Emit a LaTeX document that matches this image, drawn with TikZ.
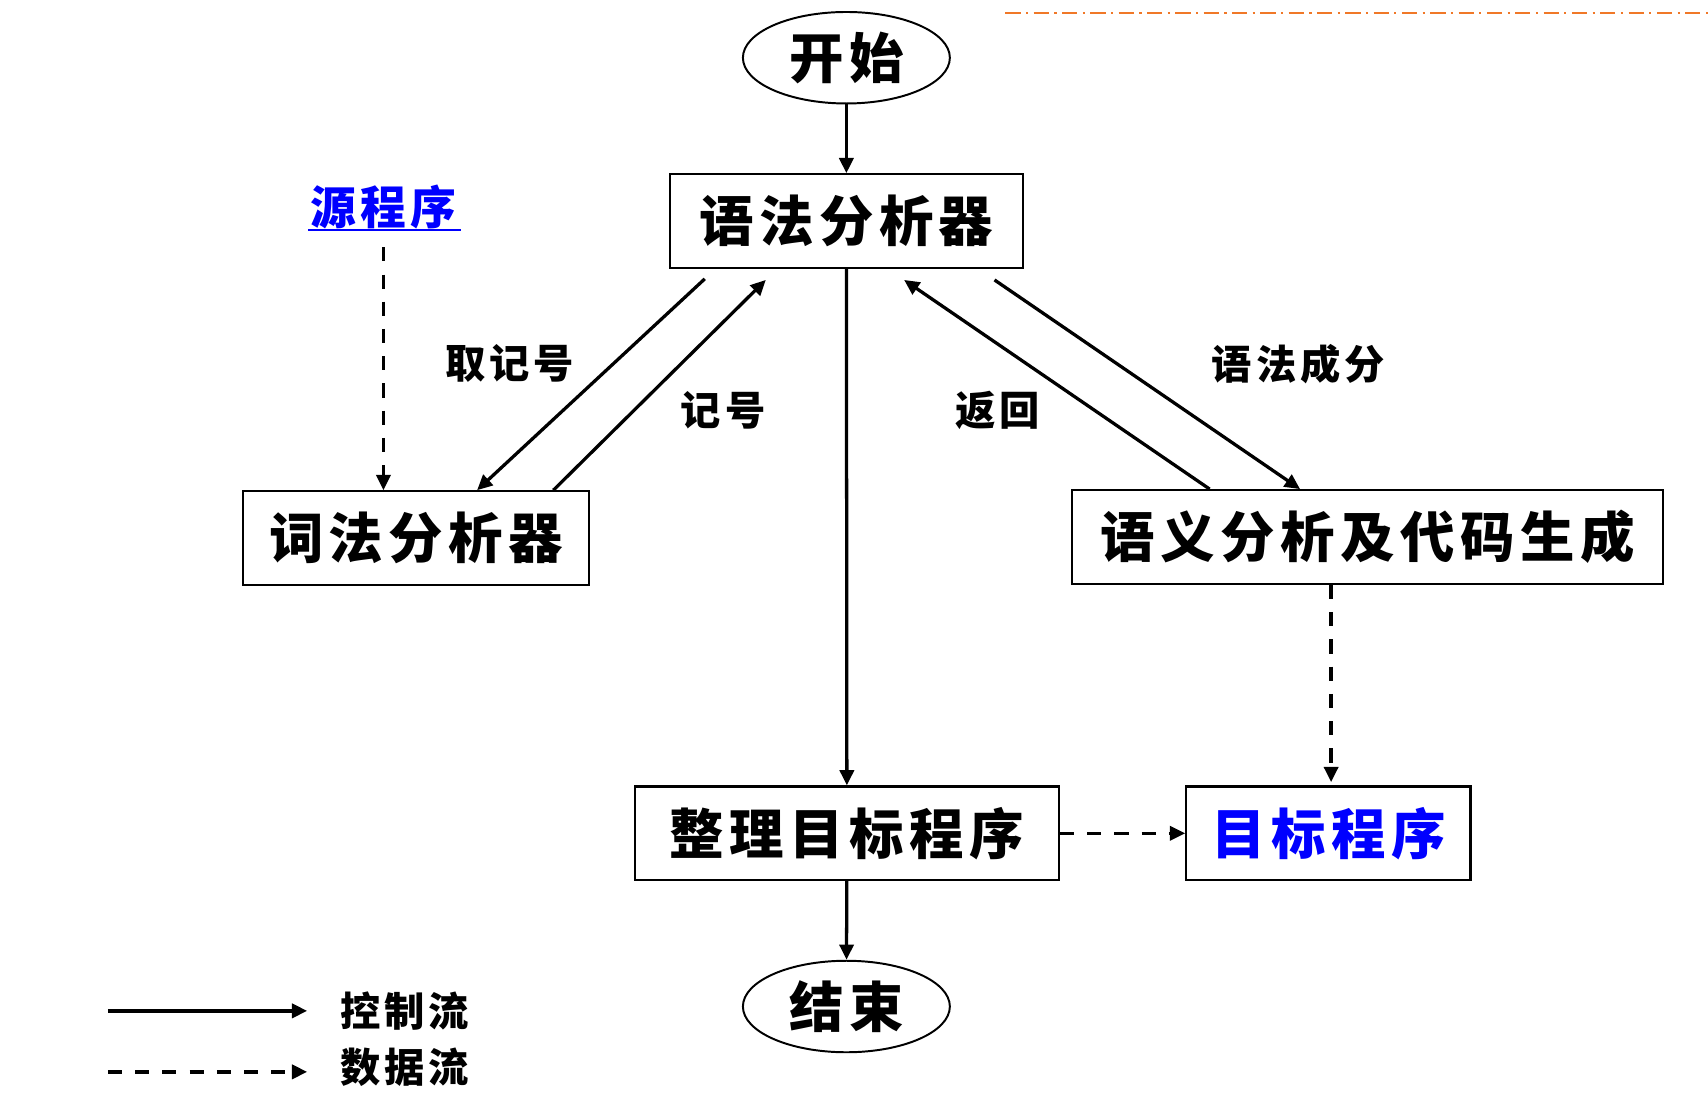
\documentclass[tikz,border=0pt]{standalone}
\usepackage{fontspec}
\newfontfamily\cjk[LetterSpace=10]{Noto Sans CJK SC}
\usetikzlibrary{arrows.meta,shapes.geometric}
\definecolor{linkblue}{RGB}{0,0,255}
\definecolor{accentorange}{RGB}{240,120,40}

\begin{document}
\begin{tikzpicture}[x=0.5pt,y=-0.5pt,
  big/.style={font=\cjk\bfseries\fontsize{25}{28}\selectfont},
  mid/.style={font=\cjk\bfseries\fontsize{21}{24}\selectfont},
  small/.style={font=\cjk\bfseries\fontsize{18.5}{21}\selectfont},
  stepbox/.style={draw, line width=1pt, inner sep=0pt, minimum height=43pt, big},
  terminal/.style={ellipse, draw, line width=0.9pt, minimum width=95pt, minimum height=42pt, inner sep=0pt, big},
  ctrl/.style={line width=1.5pt, -{Triangle[length=7pt,width=6.5pt]}},
  data/.style={ctrl, dash pattern=on 6.5pt off 6pt},
]
\useasboundingbox (0,0) rectangle (1568,1028);

% decorative rule at the top right
\draw[accentorange, line width=1pt, dash pattern=on 7pt off 2.5pt on 1pt off 2.5pt] (923,12) -- (1568,12);

% nodes
\node[terminal] (start) at (777,53) {开始};
\node[stepbox, minimum width=162pt] (syn) at (777,203) {语法分析器};
\node[stepbox, minimum width=159pt] (lex) at (382,494) {词法分析器};
\node[stepbox, minimum width=271.5pt] (sem) at (1255.5,493) {语义分析及代码生成};
\node[stepbox, minimum width=194.5pt] (org) at (777.5,765) {整理目标程序};
\node[stepbox, minimum width=130.5pt, text=linkblue] (tgt) at (1219.5,765) {目标程序};
\node[terminal] (stop) at (777,924) {结束};
\node[mid, text=linkblue, inner sep=0pt] (src) at (352,190) {源程序};
\draw[linkblue, line width=1pt] (283,211) -- (423,211);

% edge labels
\node[small] (lget) at (468,334) {取记号};
\node[small] (ltok) at (664,377) {记号};
\node[small] (lret) at (916,377) {返回};
\node[small] (lpart) at (1192,334) {语法成分};

% control flow
\draw[ctrl] (start) -- (syn);
\draw[ctrl] (syn) -- (org);
\draw[ctrl] (org) -- (stop);
\draw[ctrl] ([xshift=-65pt,yshift=-4.5pt]syn.south) -- ([xshift=28pt]lex.north);
\draw[ctrl] ([xshift=63pt]lex.north) -- ([xshift=-37pt,yshift=-5pt]syn.south);
\draw[ctrl] ([xshift=-72.5pt]sem.north) -- ([xshift=26.5pt,yshift=-5pt]syn.south);
\draw[ctrl] ([xshift=68pt,yshift=-5pt]syn.south) -- ([xshift=-31pt]sem.north);

% data flow
\draw[data] (src.south |- 0,227) -- (lex.north -| src.south);
\draw[data] ([xshift=-16.75pt]sem.south) -- ([xshift=1.25pt,yshift=1.5pt]tgt.north);
\draw[data] (org) -- (tgt);

% legend
\node[small, anchor=west, inner sep=0pt] (lctl) at (312,928) {控制流};
\node[small, anchor=west, inner sep=0pt] (ldat) at (312,980) {数据流};
\coordinate (ctla) at (99,928);
\coordinate (data) at (99,984);
\draw[ctrl] (ctla) -- (ctla -| 282,0);
\draw[data] (data) -- (data -| 282,0);
\end{tikzpicture}
\end{document}
